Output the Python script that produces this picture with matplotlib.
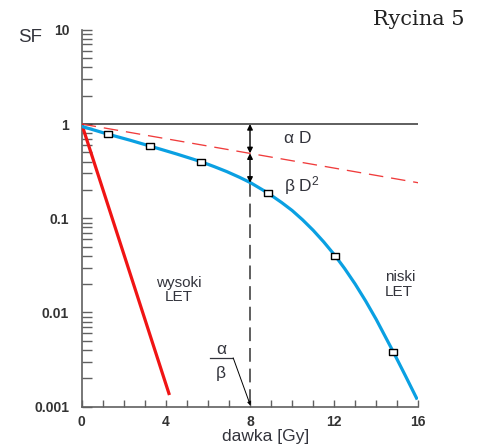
import matplotlib
matplotlib.use('Agg')
import matplotlib.pyplot as plt
from matplotlib.ticker import LogLocator, NullFormatter, MultipleLocator, FixedLocator, FixedFormatter
from matplotlib.path import Path

plt.rcParams['font.family'] = ['Liberation Sans', 'DejaVu Sans']
plt.rcParams['mathtext.fontset'] = 'custom'
plt.rcParams['mathtext.rm'] = 'Liberation Sans'
plt.rcParams['mathtext.it'] = 'Liberation Sans:italic'

# ---- data ----
dose_low = [0, 1.27, 2.3, 3.25, 4.51, 5.65, 6.3, 6.89, 7.5, 8.03, 8.87, 9.5, 10.0, 10.5,
            11.0, 11.5, 12.04, 12.5, 13.0, 13.5, 14.0, 14.81, 15.4, 15.95]
sf_low = [0.944, 0.778, 0.673, 0.583, 0.481, 0.400, 0.353, 0.313, 0.272, 0.238, 0.184, 0.147,
          0.121, 0.0962, 0.0746, 0.0562, 0.0402, 0.0292, 0.0200, 0.0132, 0.00843, 0.00382,
          0.00210, 0.00119]

dose_pts = [1.27, 3.25, 5.65, 8.87, 12.04, 14.81]
sf_pts = [0.778, 0.583, 0.400, 0.184, 0.0402, 0.00382]

dose_high = [0, 4.17]
sf_high = [1.0, 0.00133]

dose_alpha = [0, 16]
sf_alpha = [1.0, 0.238]

ab_dose = 8
sf_alpha_at_ab = 0.489
sf_low_at_ab = 0.238

x_ticks = [0, 4, 8, 12, 16]
y_ticks = [0.001, 0.01, 0.1, 1, 10]
y_ticklabels = ['0.001', '0.01', '0.1', '1', '10']

TXT = '#33343c'
AX = '#606060'
BLUE = '#0aa0e2'
RED = '#f01414'

fig = plt.figure(figsize=(4.8, 4.48), dpi=100)
ax = fig.add_axes([0.1702, 0.0922, 0.7013, 0.8413])
ax.set_yscale('log')
ax.set_xlim(0, 16)
ax.set_ylim(0.001, 10)

# reference line at SF = 1
ax.plot([0, 16], [1, 1], color='#333333', lw=1.1, zorder=2)

# alpha D (dashed)
ax.plot(dose_alpha, sf_alpha, color='#f03c3c', lw=0.95, dashes=(11, 6), zorder=3)

# high LET
ax.plot(dose_high, sf_high, color=RED, lw=2.3, solid_capstyle='butt', zorder=4)

# low LET curve
ax.plot(dose_low, sf_low, color=BLUE, lw=2.3, solid_capstyle='butt', solid_joinstyle='round', zorder=4)
rect = Path([(-1, -0.7), (1, -0.7), (1, 0.7), (-1, 0.7), (-1, -0.7)],
            [Path.MOVETO, Path.LINETO, Path.LINETO, Path.LINETO, Path.CLOSEPOLY])
ax.plot(dose_pts, sf_pts, ls='none', marker=rect, markersize=6,
        markerfacecolor='white', markeredgecolor='black', markeredgewidth=1.0, zorder=5)

# vertical at alpha/beta
ax.plot([ab_dose, ab_dose], [sf_low_at_ab, 0.001], color='#333333', lw=1.1,
        dashes=(9, 4.5), zorder=2)
arrow_kw = dict(arrowstyle='<|-|>', color='black', lw=1.0, mutation_scale=8,
                shrinkA=0, shrinkB=0)
ax.annotate('', xy=(ab_dose, 1), xytext=(ab_dose, sf_alpha_at_ab), arrowprops=arrow_kw, zorder=6)
ax.annotate('', xy=(ab_dose, sf_alpha_at_ab), xytext=(ab_dose, sf_low_at_ab), arrowprops=arrow_kw, zorder=6)

# labels in plot
ax.text(9.6, 0.71, 'α D', fontsize=12.5, color=TXT, ha='left', va='center')
ax.text(9.6, 0.225, 'β D$^{2}$', fontsize=12.5, color=TXT, ha='left', va='center')
ax.text(4.6, 0.0173, 'wysoki\nLET', fontsize=11, color=TXT, ha='center', va='center',
        multialignment='center', linespacing=1.05)
ax.text(14.42, 0.0198, 'niski\nLET', fontsize=11, color=TXT, ha='left', va='center',
        multialignment='left', linespacing=1.05)

# alpha / beta fraction
ax.text(6.62, 0.0040, 'α', fontsize=12.5, color=TXT, ha='center', va='center')
ax.text(6.62, 0.00225, 'β', fontsize=12.5, color=TXT, ha='center', va='center')
ax.plot([6.10, 7.13], [0.00328, 0.00328], color=TXT, lw=0.9)
ax.annotate('', xy=(8.02, 0.00103), xytext=(7.2, 0.00330),
            arrowprops=dict(arrowstyle='-|>', color='black', lw=0.7, mutation_scale=5,
                            shrinkA=0, shrinkB=0))

# axes styling
for s in ['top', 'right']:
    ax.spines[s].set_visible(False)
for s in ['left', 'bottom']:
    ax.spines[s].set_color(AX)
    ax.spines[s].set_linewidth(1.2)

ax.xaxis.set_major_locator(FixedLocator(x_ticks))
ax.xaxis.set_minor_locator(MultipleLocator(1))
ax.yaxis.set_major_locator(FixedLocator(y_ticks))
ax.yaxis.set_major_formatter(FixedFormatter(y_ticklabels))
ax.yaxis.set_minor_locator(LogLocator(base=10, subs=[2, 3, 4, 5, 6, 7, 8, 9]))
ax.yaxis.set_minor_formatter(NullFormatter())

ax.tick_params(axis='x', which='both', direction='in', length=5, width=1.0, color=AX,
               labelsize=10, pad=6, labelcolor='#333333')
ax.tick_params(axis='y', which='both', direction='in', length=7, width=1.0, color=AX,
               labelsize=10, pad=9, labelcolor='#333333')
for lab in ax.get_xticklabels() + ax.get_yticklabels():
    lab.set_fontweight('bold')

# outer texts
fig.text(0.0625, 0.917, 'SF', fontsize=13.5, color=TXT, ha='center', va='center')
fig.text(0.554, 0.0246, 'dawka [Gy]', fontsize=12.5, color=TXT, ha='center', va='center')
fig.text(0.967, 0.944, 'Rycina 5', fontsize=15, color='#222222', ha='right',
         va='baseline', family='DejaVu Serif')

fig.savefig('out.png', dpi=100, facecolor='white')
